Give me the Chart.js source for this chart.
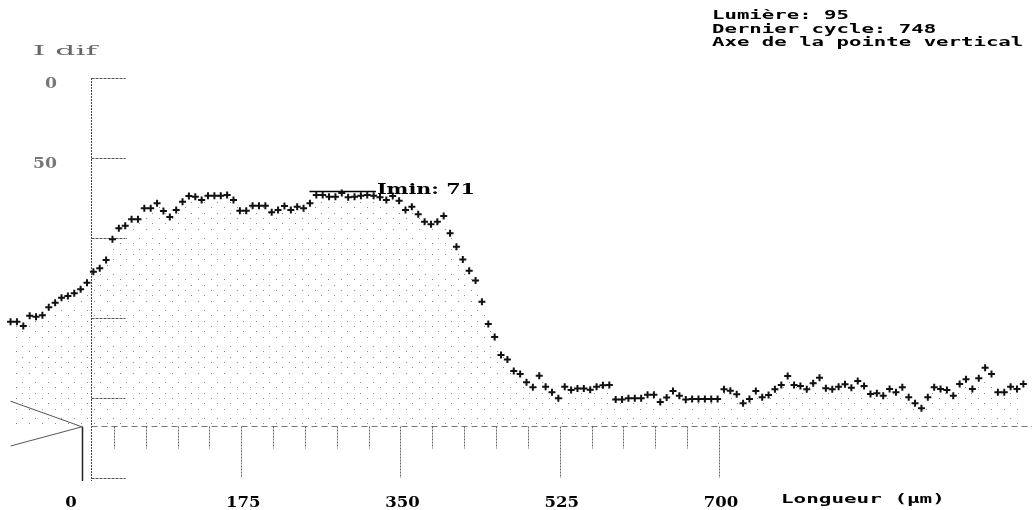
<!DOCTYPE html>
<html>
<head>
<meta charset="utf-8">
<script src="https://cdn.jsdelivr.net/npm/chart.js@4.4.0/dist/chart.umd.min.js"></script>
<style>
  html, body { margin: 0; padding: 0; background: #fff; }
  #wrap { width: 1032px; height: 510px; position: relative; }
</style>
</head>
<body>
<div id="wrap"><canvas id="profil"></canvas></div>
<script>
// profil I dif, un point tous les 7 um (grille d'acquisition)
var startUm = -78.5;
var stepUm = 7;
var iDif = [
    152.3, 152.3, 155.0, 148.6, 149.2, 148.3, 143.3, 140.4, 137.3, 136.3,
    134.6, 132.1, 127.9, 121.1, 118.9, 113.8, 100.8, 93.9, 92.3, 88.3,
    88.3, 81.4, 81.4, 78.3, 83.1, 86.9, 82.5, 77.3, 73.8, 74.2,
    76.3, 73.6, 73.6, 73.6, 73.1, 76.3, 82.9, 82.9, 79.8, 79.8,
    79.8, 83.9, 82.5, 80.0, 82.5, 80.4, 81.4, 78.3, 73.1, 73.1,
    74.2, 74.2, 71.9, 74.6, 74.2, 73.6, 73.1, 73.6, 74.6, 76.3,
    73.8, 76.7, 82.5, 80.4, 85.2, 89.8, 91.4, 89.8, 86.3, 97.1,
    105.4, 113.4, 120.4, 126.6, 139.8, 153.8, 161.9, 173.1, 175.9, 183.1,
    185.0, 190.2, 193.3, 186.1, 192.9, 196.4, 200.2, 192.9, 195.0, 194.1,
    194.1, 194.8, 192.9, 192.1, 191.9, 200.9, 200.9, 200.2, 200.2, 200.2,
    197.9, 197.9, 202.5, 199.7, 195.6, 198.6, 200.9, 200.6, 200.6, 200.6,
    200.6, 200.6, 194.6, 195.4, 197.7, 203.3, 200.6, 195.6, 199.6, 198.1,
    194.6, 191.9, 186.3, 191.9, 192.5, 194.6, 190.8, 187.3, 193.9, 194.6,
    192.9, 191.4, 193.6, 189.4, 192.5, 197.5, 197.1, 198.6, 194.4, 196.4,
    193.3, 199.6, 203.3, 206.4, 199.6, 193.3, 194.4, 195.0, 198.6, 191.3,
    188.3, 194.4, 187.7, 181.1, 185.0, 196.4, 196.4, 192.9, 194.4, 191.3
];
var positions = iDif.map(function (v, i) { return startUm + i * stepUm; });

var xTicksMajor = [0, 175, 350, 525, 700];
var xTickLabels = ['0', '175', '350', '525', '700'];
var xTicksMinor = [35, 70, 105, 140, 210, 245, 280, 315, 385, 420, 455, 490, 560, 595, 630, 665];
var yTicks = [0, 50, 100, 150, 200, 250];
var yTickLabels = ['0', '50'];
var baseLevel = 217.5;
var axisAtUm = 10;
var iMin = 71;
var iMinFrom = 250;
var iMinTo = 323;
var tipX = [-78.5, 0, -78.5];
var tipY = [202, 218, 230];
var infoLines = ['Lumière: 95', 'Dernier cycle: 748', 'Axe de la pointe vertical'];
var xTitle = 'Longueur (µm)';
var yTitle = 'I dif';

function stretchText(ctx, text, x, y, font, color, width, align) {
    ctx.save();
    ctx.font = font;
    ctx.fillStyle = color;
    ctx.textAlign = 'left';
    ctx.textBaseline = 'alphabetic';
    var w = ctx.measureText(text).width;
    var left = x;
    if (align === 'center') left = x - width / 2;
    if (align === 'right') left = x - width;
    ctx.translate(left, y);
    ctx.scale(width / w, 1);
    ctx.fillText(text, 0, 0);
    ctx.restore();
}

function line(ctx, x1, y1, x2, y2, color, width, dash) {
    ctx.save();
    ctx.strokeStyle = color;
    ctx.lineWidth = width;
    ctx.setLineDash(dash || []);
    ctx.beginPath();
    ctx.moveTo(x1, y1);
    ctx.lineTo(x2, y2);
    ctx.stroke();
    ctx.restore();
}

var axesPlugin = {
    id: 'axesPlugin',
    beforeDatasetsDraw: function (chart) {
        var ctx = chart.ctx;
        var xs = chart.scales.x, ys = chart.scales.y;
        var ax = Math.round(xs.getPixelForValue(axisAtUm)) + 0.5;
        var yTop = ys.getPixelForValue(yTicks[0]);
        var yBot = ys.getPixelForValue(yTicks[yTicks.length - 1]) + 3;
        line(ctx, ax, yTop, ax, yBot, '#444', 1, [2, 1]);
        yTicks.forEach(function (t) {
            var py = Math.round(ys.getPixelForValue(t)) + 0.5;
            line(ctx, ax, py, ax + 34, py, '#555', 1, [3, 1]);
        });
        var by = Math.round(ys.getPixelForValue(baseLevel)) + 0.5;
        line(ctx, ax, by, chart.width, by, '#777', 1, [6, 4]);
        xTicksMinor.forEach(function (t) {
            var px = Math.round(xs.getPixelForValue(t)) + 0.5;
            line(ctx, px, by, px, by + 22, '#666', 1, [2, 1]);
        });
        xTicksMajor.forEach(function (t, i) {
            var px = Math.round(xs.getPixelForValue(t)) + 0.5;
            if (i === 0) {
                line(ctx, px, by, px, yBot, '#222', 1.5);
            } else {
                line(ctx, px, by, px, yBot - 3, '#666', 1, [2, 1]);
            }
        });
    },
    afterDraw: function (chart) {
        var ctx = chart.ctx;
        var xs = chart.scales.x, ys = chart.scales.y;
        var mono = 'bold 12px "DejaVu Sans Mono"';
        infoLines.forEach(function (t, i) {
            stretchText(ctx, t, 712, 19 + i * 13.5, mono, '#000', t.length * 12.45, 'left');
        });
        stretchText(ctx, xTitle, 781, 503, mono, '#000', xTitle.length * 12.6, 'left');
        var serifB = 'bold 14px "DejaVu Serif"';
        xTickLabels.forEach(function (t, i) {
            var px = xs.getPixelForValue(xTicksMajor[i]) + (i === 0 ? -11 : 2);
            stretchText(ctx, t, px, 507, serifB, '#000', t.length * 11.5, 'center');
        });
        yTickLabels.forEach(function (t, i) {
            var py = ys.getPixelForValue(yTicks[i]) + 10;
            stretchText(ctx, t, 57, py, 'bold 14px "DejaVu Serif"', '#777', t.length * 12, 'right');
        });
        stretchText(ctx, yTitle, 33, 55, '13px "DejaVu Serif"', '#666', 64, 'left');
        var ly = ys.getPixelForValue(iMin) + 2;
        stretchText(ctx, 'Imin: ' + iMin, xs.getPixelForValue(iMinTo) + 1, ly, serifB, '#000', 98, 'left');
    }
};

var canvas = document.getElementById('profil');
var tile = document.createElement('canvas');
tile.width = 13;
tile.height = 36;
var tctx = tile.getContext('2d');
tctx.fillStyle = '#8f8f8f';
[[3, 2], [3, 13], [9, 7], [9, 22], [3, 27], [9, 33]].forEach(function (p) {
    tctx.fillRect(p[0], p[1], 1, 1);
});
var dots = canvas.getContext('2d').createPattern(tile, 'repeat');

var profilPoints = positions.map(function (x, i) { return { x: x, y: iDif[i] }; });
var tipPoints = tipX.map(function (x, i) { return { x: x, y: tipY[i] }; });

new Chart(canvas, {
    type: 'line',
    data: {
        datasets: [{
            label: 'I dif',
            data: profilPoints,
            borderWidth: 0,
            borderColor: 'rgba(0,0,0,0)',
            backgroundColor: dots,
            fill: { value: baseLevel },
            pointStyle: 'cross',
            pointRadius: 3.5,
            pointBorderWidth: 2,
            pointBorderColor: '#111',
            tension: 0
        }, {
            label: 'pointe',
            data: tipPoints,
            borderColor: '#555',
            borderWidth: 1,
            pointRadius: 0,
            fill: false
        }, {
            label: 'Imin',
            data: [{ x: iMinFrom, y: iMin }, { x: iMinTo, y: iMin }],
            borderColor: '#000',
            borderWidth: 1.5,
            pointRadius: 0,
            fill: false
        }]
    },
    options: {
        responsive: true,
        maintainAspectRatio: false,
        animation: false,
        events: [],
        layout: { padding: 0, autoPadding: false },
        plugins: {
            legend: { display: false },
            tooltip: { enabled: false }
        },
        scales: {
            x: { type: 'linear', display: false, min: -90.1, max: 1044 },
            y: { type: 'linear', display: false, reverse: true, min: -48.75, max: 270 }
        }
    },
    plugins: [axesPlugin]
});
</script>
</body>
</html>
